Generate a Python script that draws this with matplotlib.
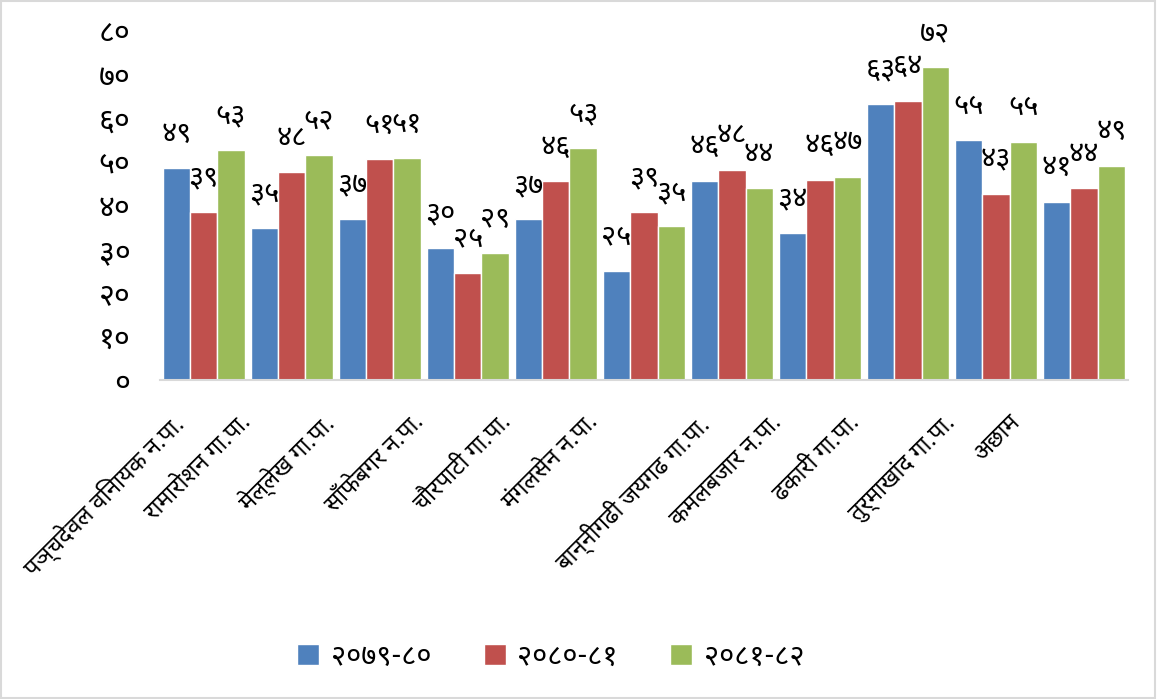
import matplotlib
matplotlib.use("Agg")
import matplotlib.pyplot as plt
import numpy as np
from matplotlib.transforms import blended_transform_factory, Affine2D
from matplotlib.patches import Rectangle

categories = ["पञ्चदेवल विनायक न.पा.", "रामारोशन गा.पा.", "मेल्लेख गा.पा.",
              "साँफेबगर न.पा.", "चौरपाटी गा.पा.", "मंगलसेन न.पा.",
              "बान्नीगढी जयगढ गा.पा.", "कमलबजार न.पा.", "ढकारी गा.पा.",
              "तुर्माखांद गा.पा.", "अछाम"]
series_names = ["२०७९-८०", "२०८०-८१", "२०८१-८२"]
s2079 = [48.6, 34.9, 37.0, 30.2, 36.8, 25.1, 45.7, 33.6, 63.2, 55.0, 40.9]
s2080 = [38.6, 47.6, 50.6, 24.6, 45.6, 38.6, 48.2, 45.9, 64.0, 42.6, 44.0]
s2081 = [52.7, 51.6, 50.9, 29.1, 53.2, 35.2, 44.0, 46.6, 71.6, 54.6, 49.1]
yticks = [0, 10, 20, 30, 40, 50, 60, 70, 80]
colors = ["#4F81BD", "#C0504D", "#9BBB59"]

DEV = str.maketrans("0123456789", "०१२३४५६७८९")
def dev(n):
    return str(int(round(n))).translate(DEV)

FAM = ["Noto Sans Devanagari", "FreeSans", "DejaVu Sans"]
plt.rcParams['font.family'] = FAM

fig = plt.figure(figsize=(11.57, 6.99), dpi=100)
ax = fig.add_axes([0.138, 0.456, 0.837, 0.5])

x = np.arange(len(categories))
w = 0.31
for k, vals in enumerate([s2079, s2080, s2081]):
    bars = ax.bar(x + (k - 1) * w, vals, w, color=colors[k], edgecolor="white",
                  linewidth=1.0, label=series_names[k], zorder=2)
    for b, v in zip(bars, vals):
        ax.annotate(dev(v), (b.get_x() + b.get_width() / 2, v), xytext=(0, 14),
                    textcoords="offset points", ha="center", va="bottom",
                    fontsize=21, family=FAM)

ax.set_xlim(-0.5, len(categories) - 0.5)
ax.set_ylim(0, 80)
ax.set_yticks(yticks)
ax.set_yticklabels([dev(t) for t in yticks], fontsize=22, family=FAM)
ax.tick_params(axis="y", length=0, pad=21)
ax.set_xticks([])
for sp in ["top", "right", "left"]:
    ax.spines[sp].set_visible(False)
ax.spines["bottom"].set_color("#D9D9D9")
ax.spines["bottom"].set_linewidth(1.5)

base = blended_transform_factory(ax.transData, ax.transAxes)
texts = []
for i, name in enumerate(categories):
    t = ax.text(x[i], 0, name, transform=base, rotation=45, rotation_mode="anchor",
                ha="right", va="top", fontsize=17, family=FAM, clip_on=False)
    texts.append(t)

fig.canvas.draw()
axis_px = ax.transAxes.transform((0, 0))[1]
for i, t in enumerate(texts):
    bb = t.get_window_extent()
    tick_px = ax.transData.transform((x[i], 0))[0]
    want_x1 = tick_px - 80 + 0.383 * bb.width
    want_y1 = axis_px - 30
    dx = want_x1 - bb.x1
    dy = want_y1 - bb.y1
    t.set_transform(base + Affine2D().translate(dx, dy))

leg = fig.legend(loc="center", bbox_to_anchor=(0.476, 0.06), ncol=3, frameon=False,
                 handlelength=0.75, handleheight=0.75, columnspacing=1.8,
                 handletextpad=0.4, prop={"family": FAM, "size": 21})

fig.patches.append(Rectangle((0.001, 0.001), 0.997, 0.997, transform=fig.transFigure,
                             fill=False, edgecolor="#D9D9D9", linewidth=1.5))

fig.savefig("out.png", dpi=100)
